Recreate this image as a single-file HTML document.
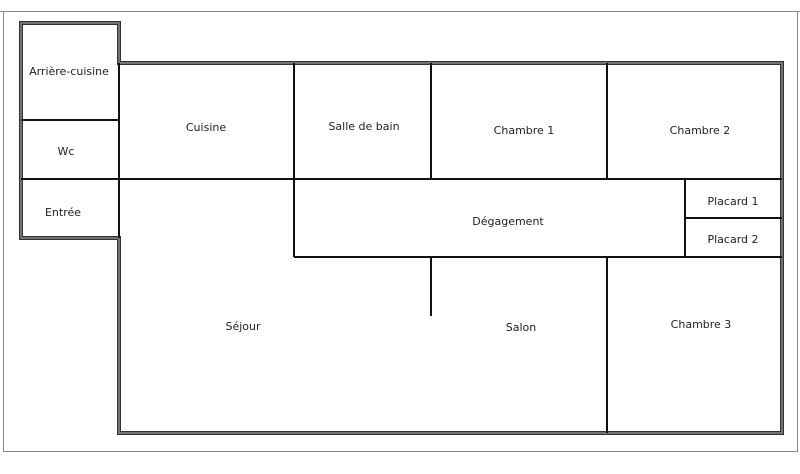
<!DOCTYPE html>
<html><head><meta charset="utf-8"><style>
body{margin:0;background:#fff;width:800px;height:469px;overflow:hidden}
svg text{font-family:"DejaVu Sans","Liberation Sans",sans-serif;font-size:11px;fill:#222;text-anchor:middle}
</style></head><body>
<svg width="800" height="469" xmlns="http://www.w3.org/2000/svg">
<line x1="0" y1="11.5" x2="800" y2="11.5" stroke="#888" stroke-width="1"/>
<line x1="3.5" y1="11" x2="3.5" y2="452" stroke="#888" stroke-width="1"/>
<line x1="797.5" y1="11" x2="797.5" y2="452" stroke="#888" stroke-width="1"/>
<line x1="3" y1="451.5" x2="798" y2="451.5" stroke="#888" stroke-width="1"/>
<g fill="none" stroke-linejoin="miter">
<path d="M21 238 L21 23 L119 23 L119 63 L782 63 L782 433 L119 433 L119 238 Z" stroke="#333" stroke-width="4"/>
<path d="M21 238 L21 23 L119 23 L119 63 L782 63 L782 433 L119 433 L119 238 Z" stroke="#888" stroke-width="1.5"/>
</g>
<g stroke="#111" stroke-width="2">
<line x1="21" y1="120" x2="119" y2="120"/>
<line x1="21" y1="179" x2="782" y2="179"/>
<line x1="119" y1="63" x2="119" y2="238"/>
<line x1="294" y1="63" x2="294" y2="257"/>
<line x1="431" y1="63" x2="431" y2="179"/>
<line x1="607" y1="63" x2="607" y2="179"/>
<line x1="294" y1="257" x2="782" y2="257"/>
<line x1="607" y1="257" x2="607" y2="433"/>
<line x1="685" y1="179" x2="685" y2="257"/>
<line x1="685" y1="218" x2="782" y2="218"/>
<line x1="431" y1="257" x2="431" y2="316"/>
</g>
<text x="69" y="75">Arrière-cuisine</text>
<text x="66" y="155">Wc</text>
<text x="63" y="216">Entrée</text>
<text x="206" y="131">Cuisine</text>
<text x="364" y="130">Salle de bain</text>
<text x="524" y="134">Chambre 1</text>
<text x="700" y="134">Chambre 2</text>
<text x="508" y="225">Dégagement</text>
<text x="733" y="205">Placard 1</text>
<text x="733" y="243">Placard 2</text>
<text x="243" y="330">Séjour</text>
<text x="521" y="331">Salon</text>
<text x="701" y="328">Chambre 3</text>
</svg>
</body></html>
